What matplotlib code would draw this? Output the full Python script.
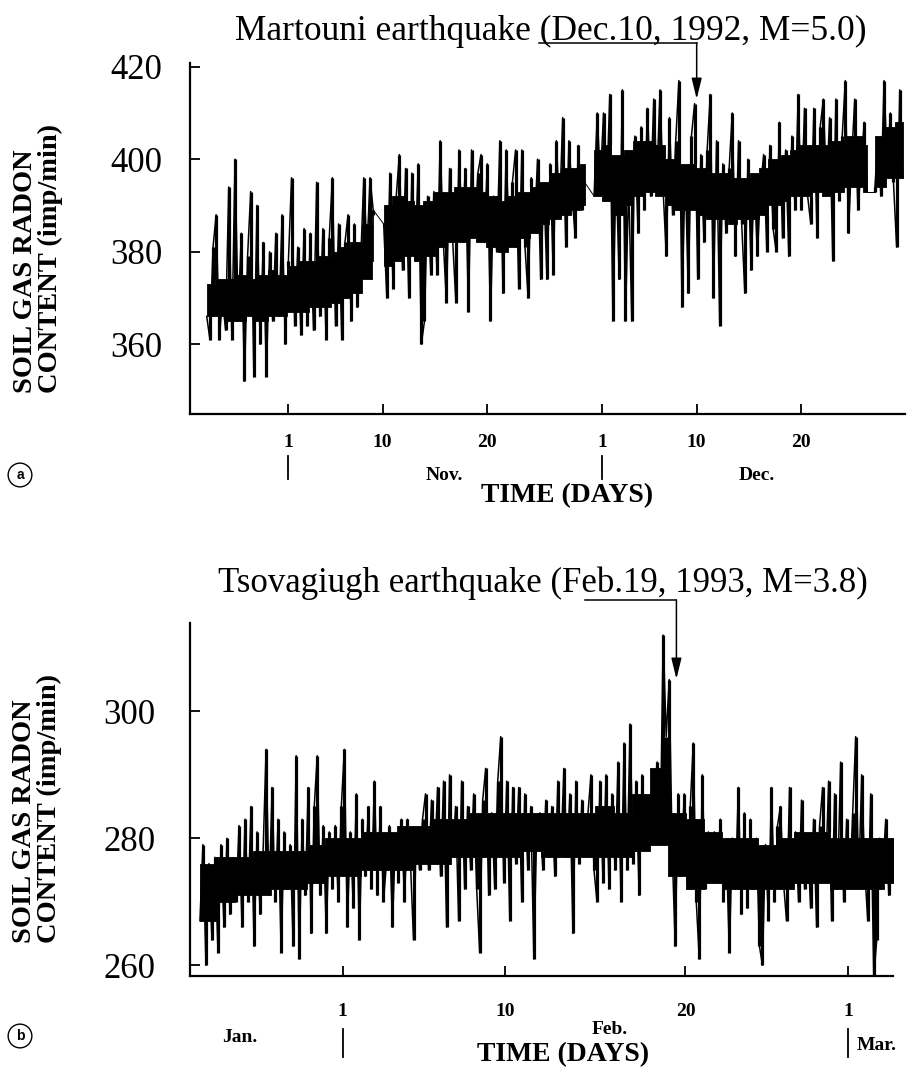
import numpy as np
import matplotlib
matplotlib.use("Agg")
import matplotlib.pyplot as plt
from matplotlib.transforms import blended_transform_factory

plt.rcParams['font.family'] = ['Liberation Serif', 'DejaVu Serif']

W, H = 908, 1067

#%% panel a - Martouni, days counted with Nov 1 = 1, one reading every 0.3 day
a_title = "Martouni earthquake (Dec.10, 1992, M=5.0)"
a_event_day = 40          # Dec 10
a_step = 0.3
a_starts = [-6.8, 10.1, 30.2, 57.0]
a_seg1 = [366, 361, 381, 388, 361, 370, 363, 394, 361, 400,
          366, 384, 352, 379, 393, 353, 390, 360, 382, 353,
          380, 365, 384, 366, 388, 360, 378, 396, 364, 381,
          362, 385, 364, 384, 363, 395, 366, 385, 361, 383,
          396, 364, 386, 361, 382, 388, 365, 386, 368, 378,
          396, 380, 396, 389]
a_seg2 = [386, 370, 397, 372, 392, 401, 376, 398, 370, 397,
          378, 399, 360, 365, 392, 375, 393, 375, 404, 382,
          369, 398, 382, 369, 402, 384, 398, 367, 402, 385,
          397, 401, 382, 399, 365, 392, 380, 404, 371, 402,
          382, 395, 402, 372, 402, 381, 370, 396, 385, 400,
          374, 394, 374, 399, 375, 404, 388, 409, 381, 404,
          392, 383, 403, 389, 395]
a_seg3 = [392, 410, 395, 410, 393, 414, 365, 398, 374, 415,
          365, 395, 365, 405, 384, 407, 389, 411, 392, 413,
          396, 415, 393, 379, 409, 388, 404, 417, 368, 398,
          371, 405, 412, 374, 401, 382, 402, 414, 370, 404,
          364, 399, 384, 398, 410, 379, 404, 386, 371, 400,
          376, 396, 379, 394, 401, 380, 403, 385, 380, 408,
          383, 402, 379, 405, 389, 414, 389, 411, 392, 386,
          411, 383, 407, 413, 393, 409, 378, 413, 391, 405,
          417, 384, 400, 413, 389, 398, 408, 393]
a_seg4 = [393, 404, 392, 417, 398, 410, 395, 381, 415, 396]
a_segments = [a_seg1, a_seg2, a_seg3, a_seg4]
# dense core of the trace, one low/high pair per day from day -7 to day 59
a_core_start = -7
a_core_lo = [366, 366, 365, 365, 366, 365, 366, 366,
             367, 367, 368, 368, 369, 370, 371, 374,
             378, 377, 378, 379, 378, 379, 381, 382,
             382, 383, 382, 381, 380, 381, 383, 384,
             386, 387, 388, 389, 390, 392, 391, 388,
             390, 392, 393, 392, 390, 389, 389, 388,
             387, 387, 386, 387, 387, 388, 390, 391,
             392, 392, 393, 392, 393, 394, 394, 393,
             394, 396, 396]
a_core_hi = [373, 374, 374, 375, 374, 375, 376, 375,
             377, 378, 378, 379, 380, 381, 382, 386,
             388, 390, 392, 391, 390, 391, 393, 393,
             394, 394, 393, 392, 391, 392, 393, 394,
             395, 397, 398, 398, 399, 402, 403, 401,
             402, 404, 404, 403, 400, 399, 399, 398,
             397, 397, 396, 396, 397, 398, 400, 401,
             402, 403, 403, 403, 404, 405, 405, 403,
             405, 407, 408]
a_yticks = [360, 380, 400, 420]
a_xticks = [1, 10, 20, 31, 40, 50]
a_xticklabels = ["1", "10", "20", "1", "10", "20"]
a_month_starts = [1, 31]
a_months = ["Nov.", "Dec."]
a_month_pos = [15.9, 45.7]

#%% panel b - Tsovagiugh, days counted with Feb 1 = 1, one reading every 4 h
b_title = "Tsovagiugh earthquake (Feb.19, 1993, M=3.8)"
b_event_day = 19.5
b_step = 1 / 6
b_start = -6.9
b_values = [267, 279, 260, 276, 264, 277, 262, 279, 266, 280,
            268, 276, 270, 282, 266, 283, 270, 285, 263, 281,
            268, 278, 294, 271, 288, 270, 283, 262, 281, 272,
            279, 263, 293, 261, 283, 271, 288, 265, 285, 293,
            271, 282, 265, 281, 272, 282, 270, 285, 294, 266,
            281, 269, 287, 264, 283, 274, 285, 272, 289, 271,
            285, 270, 276, 282, 266, 280, 273, 283, 270, 283,
            276, 264, 281, 275, 283, 287, 275, 286, 276, 288,
            274, 289, 266, 290, 277, 285, 267, 289, 272, 285,
            275, 287, 272, 262, 286, 291, 271, 284, 272, 289,
            296, 273, 289, 267, 288, 276, 288, 270, 287, 275,
            285, 261, 282, 284, 275, 286, 277, 285, 274, 289,
            278, 291, 277, 287, 265, 289, 276, 286, 279, 284,
            290, 275, 270, 289, 273, 290, 272, 287, 275, 292,
            270, 295, 275, 298, 276, 289, 271, 290, 278, 285,
            279, 287, 292, 279, 312, 296, 305, 278, 263, 287,
            276, 287, 273, 285, 295, 270, 261, 290, 272, 281,
            276, 281, 274, 283, 270, 278, 262, 280, 272, 288,
            268, 284, 269, 283, 272, 280, 263, 260, 279, 267,
            288, 270, 282, 285, 273, 267, 288, 274, 281, 270,
            286, 272, 280, 269, 283, 266, 282, 288, 274, 289,
            267, 287, 273, 292, 270, 283, 272, 284, 296, 273,
            290, 275, 267, 287, 258, 264, 280, 275, 283, 271,
            279, 272]
# dense core, one low/high pair per day from day -7 to day 31
b_core_start = -7
b_core_lo = [267, 270, 271, 271, 272, 272, 273, 274,
             274, 275, 275, 275, 276, 276, 277, 277,
             277, 277, 278, 277, 277, 277, 277, 277,
             278, 279, 274, 272, 273, 272, 272, 272,
             272, 273, 273, 272, 272, 272, 273]
b_core_hi = [276, 277, 277, 278, 278, 278, 279, 280,
             280, 281, 281, 282, 282, 283, 283, 284,
             284, 284, 284, 284, 284, 284, 285, 284,
             287, 291, 284, 283, 281, 280, 280, 279,
             280, 281, 281, 280, 280, 280, 280]
b_yticks = [260, 280, 300]
b_xticks = [1, 10, 20, 29]
b_xticklabels = ["1", "10", "20", "1"]
b_month_starts = [1, 29]
b_months = ["Jan.", "Feb.", "Mar."]
b_month_pos = [-4.7, 15.8, 30.6]

ylabel = "SOIL GAS RADON\nCONTENT (imp/min)"


def fx(px):
    return px / W


def fy(py):
    return 1 - py / H


def draw_trace(ax, t, v, core_start, core_lo, core_hi):
    v = np.asarray(v, dtype=float)
    idx = np.floor(t - core_start).astype(int)
    lo = np.asarray(core_lo, dtype=float)[idx]
    hi = np.asarray(core_hi, dtype=float)[idx]
    ax.fill_between(t, lo, hi, step='mid', facecolor='k', edgecolor='k', lw=0.6)
    base = np.clip(v, lo, hi)
    ax.vlines(t, base, v, color='k', lw=2.3)
    ax.plot(t, v, color='k', lw=1.1)


def style_axes(ax, yticks, xticks, pad):
    for s in ['top', 'right']:
        ax.spines[s].set_visible(False)
    for s in ['left', 'bottom']:
        ax.spines[s].set_linewidth(1.6)
    ax.set_yticks(yticks)
    ax.set_xticks(xticks)
    ax.tick_params(axis='y', direction='in', length=7, width=1.3,
                   pad=pad, labelsize=25)
    ax.tick_params(axis='x', direction='in', length=7, width=1.3,
                   labelbottom=False)


def event_arrow(ax, x0, ev, uy, tip):
    tr = blended_transform_factory(ax.transData, fig.transFigure)
    ax.plot([x0, ev], [fy(uy), fy(uy)], transform=tr, color='k',
            lw=1.1, clip_on=False)
    ax.annotate('', xy=(ev, fy(tip)), xytext=(ev, fy(uy)),
                xycoords=tr, textcoords=tr, annotation_clip=False,
                arrowprops=dict(arrowstyle='-|>,head_length=0.9,head_width=0.22',
                                color='k', lw=1.1, shrinkA=0, shrinkB=0,
                                mutation_scale=14))


fig = plt.figure(figsize=(W / 100, H / 100), dpi=100)
fig.patch.set_facecolor('white')

#%% panel a
ax_a = fig.add_axes([fx(190), fy(414), fx(905) - fx(190), fy(63) - fy(414)])
ends = []
for start, seg in zip(a_starts, a_segments):
    t = start + a_step * np.arange(len(seg))
    draw_trace(ax_a, t, seg, a_core_start, a_core_lo, a_core_hi)
    ends.append((t[0], seg[0], t[-1], seg[-1]))
for (_, _, t1, v1), (t2, v2, _, _) in zip(ends[:-1], ends[1:]):
    ax_a.plot([t1, t2], [v1, v2], color='k', lw=0.7)
ax_a.set_xlim(-8.4, 59.9)
ax_a.set_ylim(344.9, 420.8)
style_axes(ax_a, a_yticks, a_xticks, pad=20)

tr_a = blended_transform_factory(ax_a.transData, fig.transFigure)
for x, s in zip(a_xticks, a_xticklabels):
    ax_a.text(x, fy(442), s, transform=tr_a, ha='center', va='center',
              fontsize=14, fontweight='bold', clip_on=False)
for x in a_month_starts:
    ax_a.plot([x, x], [fy(456), fy(479)], transform=tr_a, color='k',
              lw=1.3, clip_on=False)
for x, s in zip(a_month_pos, a_months):
    ax_a.text(x, fy(476), s, transform=tr_a, ha='center', va='center',
              fontsize=14, fontweight='bold', clip_on=False)
fig.text(fx(567), fy(496), "TIME (DAYS)", ha='center', va='center',
         fontsize=20, fontweight='bold')
fig.text(fx(551), fy(40), a_title, ha='center', va='baseline', fontsize=25.5)
event_arrow(ax_a, 24.9, a_event_day, 43, 99)
fig.text(fx(38), fy(393), ylabel, rotation=90, ha='center', va='bottom',
         multialignment='left', fontsize=20.5, fontweight='bold',
         linespacing=1.0)
fig.text(fx(20), fy(475), "a", ha='center', va='center', fontsize=10,
         fontweight='bold', family='Liberation Sans',
         bbox=dict(boxstyle='circle,pad=0.35', fc='white', ec='k', lw=1.0))

#%% panel b
ax_b = fig.add_axes([fx(190), fy(976), fx(893) - fx(190), fy(623) - fy(976)])
tb = b_start + b_step * np.arange(len(b_values))
draw_trace(ax_b, tb, b_values, b_core_start, b_core_lo, b_core_hi)
ax_b.set_xlim(-7.45, 31.5)
ax_b.set_ylim(258.3, 313.9)
style_axes(ax_b, b_yticks, b_xticks, pad=25)

tr_b = blended_transform_factory(ax_b.transData, fig.transFigure)
for x, s in zip(b_xticks, b_xticklabels):
    ax_b.text(x, fy(1012), s, transform=tr_b, ha='center', va='center',
              fontsize=14, fontweight='bold', clip_on=False)
for x in b_month_starts:
    ax_b.plot([x, x], [fy(1029), fy(1057)], transform=tr_b, color='k',
              lw=1.3, clip_on=False)
for x, s, py in zip(b_month_pos, b_months, [1037, 1029, 1045]):
    ax_b.text(x, fy(py), s, transform=tr_b, ha='center', va='center',
              fontsize=14, fontweight='bold', clip_on=False)
fig.text(fx(563), fy(1055), "TIME (DAYS)", ha='center', va='center',
         fontsize=20, fontweight='bold')
fig.text(fx(543), fy(592), b_title, ha='center', va='baseline', fontsize=25)
event_arrow(ax_b, 14.45, b_event_day, 600, 679)
fig.text(fx(37), fy(943), ylabel, rotation=90, ha='center', va='bottom',
         multialignment='left', fontsize=20.5, fontweight='bold',
         linespacing=1.0)
fig.text(fx(20), fy(1036), "b", ha='center', va='center', fontsize=10,
         fontweight='bold', family='Liberation Sans',
         bbox=dict(boxstyle='circle,pad=0.35', fc='white', ec='k', lw=1.0))

fig.savefig("out.png", dpi=100, facecolor='white')
